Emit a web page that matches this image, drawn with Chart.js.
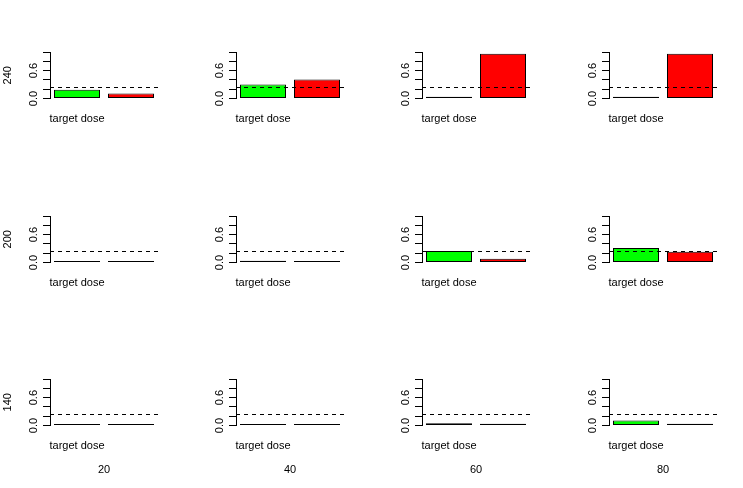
<!DOCTYPE html>
<html>
<head>
<meta charset="utf-8">
<script src="https://cdn.jsdelivr.net/npm/chart.js@4.4.0/dist/chart.umd.min.js"></script>
<style>
  body { margin: 0; background: #fff; }
  #grid { position: relative; width: 743px; height: 488px; }
  #grid canvas { position: absolute; }
</style>
</head>
<body>
<div id="grid"></div>
<script>
// columns and rows of the panel grid
var doses = ['20', '40', '60', '80'];
var rowLabels = ['240', '200', '140'];
var categories = ['target dose', ''];

// bar heights per row (one value per dose column)
var greenValues = [
  [0.19, 0.30, 0.04, 0.04],
  [0.00, 0.04, 0.25, 0.31],
  [0.00, 0.00, 0.05, 0.11]
];
var redValues = [
  [0.11, 0.41, 0.96, 0.96],
  [0.00, 0.00, 0.08, 0.23],
  [0.00, 0.00, 0.04, 0.04]
];
var target = 0.25;
var labelledTicks = [0, 0.6];

Chart.defaults.font.family = '"Liberation Sans", Arial, sans-serif';
Chart.defaults.font.size = 11;
Chart.defaults.color = '#000';

// R-style y tick labels (reading upwards) and the dashed target line
var panelExtras = {
  id: 'panelExtras',
  afterDatasetsDraw: function(chart) {
    var ctx = chart.ctx;
    var area = chart.chartArea;
    var y = chart.scales.y;
    var py = Math.round(y.getPixelForValue(target)) + 0.5;
    ctx.save();
    ctx.strokeStyle = '#000';
    ctx.lineWidth = 1;
    ctx.setLineDash([4, 4]);
    ctx.beginPath();
    ctx.moveTo(area.left, py);
    ctx.lineTo(area.right + 1, py);
    ctx.stroke();
    ctx.restore();
  },
  afterDraw: function(chart) {
    var ctx = chart.ctx;
    var y = chart.scales.y;
    ctx.save();
    ctx.font = '11px "Liberation Sans", Arial, sans-serif';
    ctx.fillStyle = '#000';
    ctx.textAlign = 'center';
    ctx.textBaseline = 'middle';
    labelledTicks.forEach(function(v) {
      ctx.save();
      ctx.translate(y.right - 16.5, y.getPixelForValue(v));
      ctx.rotate(-Math.PI / 2);
      ctx.fillText(v.toFixed(1), 0, 0);
      ctx.restore();
    });
    ctx.restore();
  }
};

var grid = document.getElementById('grid');

for (var row = 0; row < rowLabels.length; row++) {
  for (var col = 0; col < doses.length; col++) {
    var canvas = document.createElement('canvas');
    canvas.width = 186;
    canvas.height = 160;
    canvas.style.left = Math.round(col * 186.2) + 'px';
    canvas.style.top = Math.round(row * 163.5) + 'px';
    grid.appendChild(canvas);

    new Chart(canvas, {
      type: 'bar',
      data: {
        labels: categories,
        datasets: [{
          data: [greenValues[row][col], redValues[row][col]],
          backgroundColor: ['#00ff00', '#ff0000'],
          borderColor: '#000',
          borderWidth: 1,
          borderSkipped: false,
          inflateAmount: 0,
          minBarLength: 1.5,   // empty bars still show as a 1px line, like R
          clip: false,
          categoryPercentage: 1,
          barPercentage: 46 / 54
        }]
      },
      options: {
        responsive: false,
        animation: false,
        layout: { padding: { top: 52, right: 28, left: 0, bottom: 0 } },
        plugins: { legend: { display: false }, tooltip: { enabled: false } },
        scales: {
          x: {
            offset: true,
            grid: { display: false, drawTicks: false },
            border: { display: false },
            ticks: { autoSkip: false, maxRotation: 0, minRotation: 0, padding: 13.5 },
            title: {
              display: row === rowLabels.length - 1,
              text: doses[col],
              padding: { top: 0, bottom: 10 }
            },
            afterFit: function(s) { s.height = 61.5; }
          },
          y: {
            min: 0,
            max: 1,
            ticks: { stepSize: 0.2, display: false },
            grid: { drawOnChartArea: false, drawTicks: true, tickLength: 7, color: '#000' },
            border: { display: true, color: '#000' },
            title: {
              display: col === 0,
              text: rowLabels[row],
              padding: { top: 1, bottom: 0 }
            },
            afterFit: function(s) { s.width = 50; }
          }
        }
      },
      plugins: [panelExtras]
    });
  }
}
</script>
</body>
</html>
